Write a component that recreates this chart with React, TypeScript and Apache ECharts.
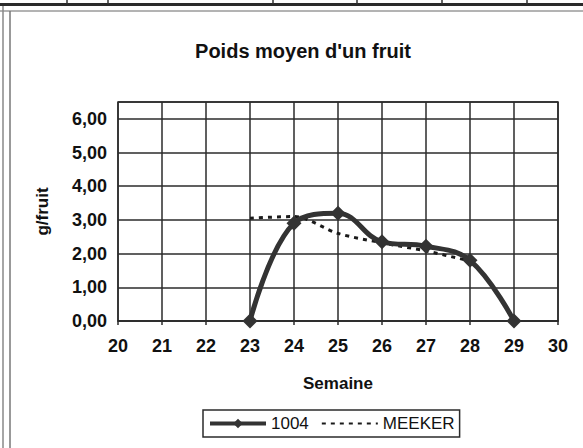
import React, { useEffect, useRef } from "react";
import * as echarts from "echarts";

const TITLE = "Poids moyen d'un fruit";
const X_NAME = "Semaine";
const Y_NAME = "g/fruit";
const SERIES_A_NAME = "1004";
const SERIES_B_NAME = "MEEKER";
const WEEKS_A = [23, 24, 25, 26, 27, 28, 29];
const VALUES_A = [0, 2.9, 3.2, 2.35, 2.22, 1.8, 0];
const WEEKS_B = [23, 24, 25, 26, 27, 28];
const VALUES_B = [3.05, 3.1, 2.6, 2.32, 2.08, 1.78];
const X_MIN = 20;
const X_MAX = 30;
const Y_MIN = 0;
const Y_MAX = 6.5;

const FONT = "'Liberation Sans', Arial, sans-serif";
const INK = "#2b2b2b";

export default function App() {
  const ref = useRef<HTMLDivElement>(null);
  useEffect(() => {
    if (!ref.current) return;
    const chart = echarts.init(ref.current, undefined, { renderer: "svg" });
    const dataA = WEEKS_A.map((w, i) => [w, VALUES_A[i]]);
    const dataB = WEEKS_B.map((w, i) => [w, VALUES_B[i]]);
    const topTicks = [67, 108, 273, 357, 442, 527];
    chart.setOption({
      animation: false,
      backgroundColor: "#ffffff",
      title: {
        text: TITLE,
        left: 298,
        top: 36,
        textAlign: "center",
        textStyle: { fontFamily: FONT, fontSize: 20, fontWeight: "bold", color: "#111" },
      },
      grid: {
        left: 118,
        right: 25,
        top: 102,
        bottom: 127,
        show: true,
        borderColor: INK,
        borderWidth: 1.5,
        backgroundColor: "#ffffff",
      },
      legend: {
        left: 203,
        top: 410,
        itemWidth: 56,
        itemHeight: 12,
        itemGap: 12,
        padding: [5, 5],
        borderColor: INK,
        borderWidth: 1.5,
        textStyle: { fontFamily: FONT, fontSize: 17, color: "#111" },
        data: [
          { name: SERIES_A_NAME, lineStyle: { width: 4 } },
          { name: SERIES_B_NAME, itemStyle: { opacity: 0 } },
        ],
      },
      xAxis: {
        type: "value",
        min: X_MIN,
        max: X_MAX,
        interval: 1,
        name: X_NAME,
        nameLocation: "middle",
        nameGap: 54,
        nameTextStyle: { fontFamily: FONT, fontSize: 17, fontWeight: "bold", color: "#111" },
        axisLine: { show: true, lineStyle: { color: INK, width: 1.5 } },
        axisTick: { show: true, length: 4, lineStyle: { color: INK, width: 1.5 } },
        axisLabel: {
          margin: 16,
          fontFamily: FONT,
          fontSize: 18,
          fontWeight: "bold",
          color: "#111",
        },
        splitLine: { show: true, lineStyle: { color: INK, width: 1.5 } },
      },
      yAxis: {
        type: "value",
        min: Y_MIN,
        max: Y_MAX,
        interval: 1,
        name: Y_NAME,
        nameLocation: "middle",
        nameGap: 67,
        nameRotate: 90,
        nameTextStyle: { fontFamily: FONT, fontSize: 17, fontWeight: "bold", color: "#111" },
        axisLine: { show: false },
        axisTick: { show: false },
        axisLabel: {
          margin: 11,
          fontFamily: FONT,
          fontSize: 18,
          fontWeight: "bold",
          color: "#111",
          formatter: (v: number) =>
            Math.abs(v - Math.round(v)) < 1e-9 ? v.toFixed(2).replace(".", ",") : "",
        },
        splitLine: { show: true, lineStyle: { color: INK, width: 1.5 } },
      },
      series: [
        {
          name: SERIES_B_NAME,
          type: "line",
          data: dataB,
          symbol: "none",
          smooth: 0.3,
          lineStyle: { color: "#1a1a1a", width: 3, type: [4, 5] },
          itemStyle: { color: "#1a1a1a" },
          z: 2,
        },
        {
          name: SERIES_A_NAME,
          type: "line",
          data: dataA,
          symbol: "diamond",
          symbolSize: 15,
          smooth: 0.4,
          lineStyle: { color: "#333333", width: 5 },
          itemStyle: { color: "#333333" },
          z: 3,
        },
      ],
      graphic: [
        { type: "rect", shape: { x: 0, y: 3, width: 583, height: 3 }, style: { fill: "#2a2a2a" }, silent: true },
        { type: "line", shape: { x1: 0, y1: 11, x2: 583, y2: 11 }, style: { stroke: "#9a9a9a", lineWidth: 1.5 }, silent: true },
        { type: "line", shape: { x1: 3, y1: 6, x2: 3, y2: 448 }, style: { stroke: "#888", lineWidth: 1.5 }, silent: true },
        { type: "line", shape: { x1: 10, y1: 11, x2: 10, y2: 448 }, style: { stroke: "#777", lineWidth: 1.5 }, silent: true },
        ...topTicks.map((x) => ({
          type: "line",
          shape: { x1: x, y1: 0, x2: x, y2: 4 },
          style: { stroke: "#333", lineWidth: 1.5 },
          silent: true,
        })),
      ],
    });
    return () => chart.dispose();
  }, []);
  return (
    <div
      ref={ref}
      style={{ position: "absolute", left: 0, top: 0, width: 583, height: 448 }}
    />
  );
}
